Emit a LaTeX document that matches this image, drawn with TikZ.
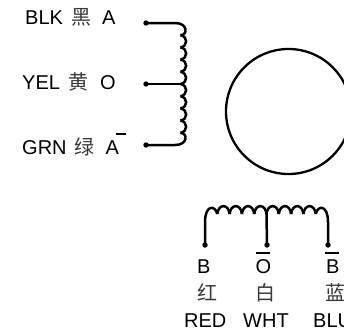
\documentclass[tikz,border=0pt]{standalone}
\usepackage{fontspec}
\setmainfont{Liberation Sans}
\newfontfamily\cjk{Noto Sans CJK SC}
\newcommand{\han}[1]{{\cjk\color{black!78}#1}}
\newcommand{\barred}[3]{\leavevmode\rlap{\kern#2pt\rule[19.3pt]{#3pt}{1.8pt}}#1}
\tikzset{
    % Terminal dot
    term/.style={
        circle,
        fill=black,
        inner sep=0pt,
        minimum size=5.4pt
    },
    % Winding and leads
    wire/.style={
        line width=2.5pt,
        line join=round,
        color=black
    },
    % Label style
    pin text/.style={
        font=\fontsize{20}{24}\selectfont,
        anchor=base west,
        inner sep=0pt,
        text=black
    }
}
\begin{document}
\begin{tikzpicture}[x=1pt, y=-1pt]
    \useasboundingbox (0,0) rectangle (344,333);

    % Rotor
    \node[draw, circle, line width=2.3pt, minimum size=125pt, inner sep=0pt] (rotor) at (288.5,111.5) {};

    % Left labels
    \node[pin text] (blktext) at (25,24) {BLK\hspace{8pt}\han{黑}\hspace{11pt}A};
    \node[pin text] (yeltext) at (22,89) {YEL\hspace{8pt}\han{黄}\hspace{12pt}O};
    \node[pin text] (grntext) at (22,154) {GRN\hspace{8pt}\han{绿}\hspace{11pt}\barred{A}{10.5}{10}};

    % Left terminals
    \node[term] (blk) at (146,23) {};
    \node[term] (yel) at (146,84) {};
    \node[term] (grn) at (146,145) {};
    \coordinate (coilatop) at (175,23);
    \coordinate (coilatap) at (181,84);
    \coordinate (coilabot) at (175,145);

    % Left winding
    \draw[wire] (blk.center) -- (coilatop) .. controls (188,23) and (188,35) .. (180.5,35.2);
    \foreach \i in {1,...,8} {
        \draw[wire] (180.5,23+12.2*\i) .. controls (188,24+12.2*\i) and (188,34.2+12.2*\i) .. (180.5,35.2+12.2*\i);
    }
    \draw[wire] (180.5,132.8) .. controls (188,133) and (188,145) .. (coilabot) -- (grn.center);
    \draw[wire] (yel.center) -- (coilatap);

    % Bottom terminals
    \node[term] (red) at (205,245) {};
    \node[term] (wht) at (267,245) {};
    \node[term] (blu) at (328,245) {};
    \coordinate (coilbleft) at (205,222);
    \coordinate (coilbright) at (328,222);
    \coordinate (coilbtap) at (266.5,214);

    % Bottom winding
    \draw[wire] (red.center) -- (coilbleft) .. controls (205,205) and (215,204.5) .. (217.3,214);
    \foreach \i in {0,...,7} {
        \draw[wire] (217.3+12.3*\i,214) .. controls (218.3+12.3*\i,203.5) and (228.6+12.3*\i,203.5) .. (229.6+12.3*\i,214);
    }
    \draw[wire] (315.7,214) .. controls (318,204.5) and (328,205) .. (coilbright) -- (blu.center);
    \draw[wire] (wht.center) -- (coilbtap);

    % Bottom labels
    \node[pin text] (btext) at (197,273) {B};
    \node[pin text] (otext) at (255.5,273) {\barred{O}{0.5}{14}};
    \node[pin text] (bbar) at (326,273) {\barred{B}{-1}{14}};
    \node[pin text] (redhan) at (197,300) {\han{红}};
    \node[pin text] (whthan) at (255,300) {\han{白}};
    \node[pin text] (bluhan) at (325,300) {\han{蓝}};
    \node[pin text] (redtext) at (184,327) {RED};
    \node[pin text] (whttext) at (243,327) {WHT};
    \node[pin text] (blutext) at (313,327) {BLU};
\end{tikzpicture}
\end{document}
